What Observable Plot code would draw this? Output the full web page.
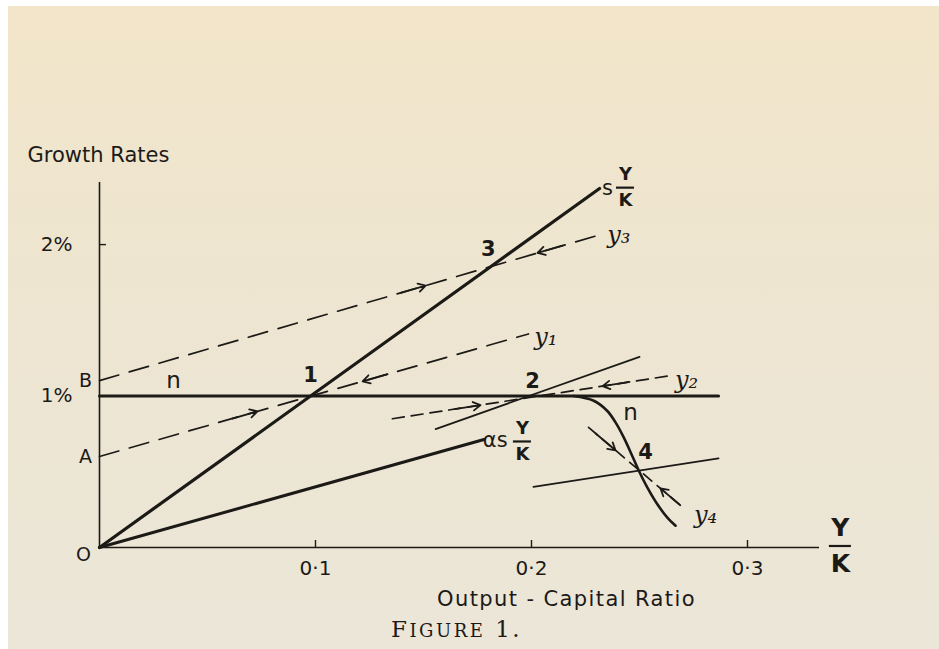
<!DOCTYPE html>
<html><head><meta charset="utf-8">
<script src="https://cdn.jsdelivr.net/npm/d3@7"></script>
<script src="https://cdn.jsdelivr.net/npm/@observablehq/plot@0.6"></script>
<style>
html,body{margin:0;padding:0;}
body{width:939px;height:649px;overflow:hidden;position:relative;background:linear-gradient(#f2e5c9, #eee5d0 40%, #ebe6d8);font-family:"DejaVu Sans",sans-serif;color:#1c1a17}
#edge-top{position:absolute;left:0;top:0;width:939px;height:6px;background:#fff}
#edge-left{position:absolute;left:0;top:0;width:8px;height:649px;background:#fff}
#caption{position:absolute;left:391px;top:618px;line-height:23px;font-family:"DejaVu Serif",serif;font-size:23px;letter-spacing:2.5px;color:#1c1a17;white-space:nowrap}
#caption .sc{font-size:18px}
svg{display:block}
</style></head><body>
<div id="chart"></div>
<div id="caption">F<span class="sc">IGURE</span> 1.</div>
<div id="edge-top"></div><div id="edge-left"></div>
<script>
// ---- axis ticks ----
const xTicks = [0.1, 0.2, 0.3];
const xTickLabels = ["0·1", "0·2", "0·3"];
const yTicks = [1, 2];
const yTickLabels = ["1%", "2%"];

// ---- solid curves (x = output-capital ratio, y = growth rate %) ----
const savingsRate = [[0, 0], [0.2315, 2.37]];          // s·Y/K
const alphaSavingsRate = [[0, 0], [0.178, 0.713]];     // αs·Y/K
const naturalRate = [[0, 1], [0.2866, 1]];             // n
const naturalRateFalling = [[0.2195, 1.0], [0.2288, 0.969], [0.2350, 0.903], [0.2389, 0.826],
  [0.2427, 0.727], [0.2466, 0.606], [0.2497, 0.507], [0.2536, 0.397], [0.2582, 0.287],
  [0.2628, 0.199], [0.2667, 0.144]];
const line2 = [[0.1556, 0.782], [0.25, 1.259]];
const line4 = [[0.2009, 0.400], [0.2866, 0.589]];

// ---- dashed output-growth paths ----
const pathY1 = [[0, 0.601], [0.1986, 1.41]];
const pathY2 = [[0.1356, 0.850], [0.263, 1.132]];
const pathY3 = [[0, 1.102], [0.2327, 2.069]];
const pathY4 = [[0.2264, 0.793], [0.2704, 0.261]];

// arrow tips on dashed paths (x of tip, direction along x)
const arrowTipX = [0.0731, 0.1218, 0.151, 0.2028, 0.1764, 0.2329, 0.2389, 0.2597];
const arrowDir  = [1, -1, 1, -1, 1, -1, 1, -1];
const arrowPath = ["y1", "y1", "y3", "y3", "y2", "y2", "y4", "y4"];

// ---- labels ----
const pointLabels = ["1", "2", "3", "4"];
const pointLabelX = [0.0977, 0.2005, 0.180, 0.2528];
const pointLabelY = [1.14, 1.10, 1.97, 0.63];

const nLabels = ["n", "n"];
const nLabelX = [0.0343, 0.2458];
const nLabelY = [1.10, 0.89];

const yLabels = ["y₁", "y₂", "y₃", "y₄"];
const yLabelX = [0.2066, 0.2718, 0.2404, 0.2806];
const yLabelY = [1.39, 1.105, 2.06, 0.215];

const axisLetters = ["B", "A", "O"];
const axisLetterX = [-0.0065, -0.0065, -0.0074];
const axisLetterY = [1.10, 0.60, -0.046];

// ---- layout ----
const W = 939, H = 612, mL = 99, mR = 120, mT = 182, mB = 65;
const xDomain = [0, 1 / 3], yDomain = [0, 2.41];
const kx = (W - mL - mR) / (xDomain[1] - xDomain[0]);
const ky = (H - mT - mB) / (yDomain[1] - yDomain[0]);

const paths = {y1: pathY1, y2: pathY2, y3: pathY3, y4: pathY4};
const arrows = arrowTipX.map((t, i) => {
  const p = paths[arrowPath[i]];
  const m = (p[1][1] - p[0][1]) / (p[1][0] - p[0][0]);
  const len = 26 / Math.hypot(kx, m * ky);
  const t0 = t - arrowDir[i] * len;
  return {x1: t0, y1: p[0][1] + m * (t0 - p[0][0]), x2: t, y2: p[0][1] + m * (t - p[0][0])};
});

const tbl = (txt, xs, ys) => txt.map((t, i) => ({text: t, x: xs[i], y: ys[i]}));
const fx = d => d[0], fy = d => d[1];

// fraction Y/K labels: anchored at the fraction bar
const fracX = [0.2435, 0.1958, 0.3430];
const fracY = [2.376, 0.700, 0.010];
const fracSize = [18, 18, 25];
const fracGap = [13, 13, 18];
const fracBarHalf = [9, 9, 11];
const fractions = fracX.map((x, i) => ({x, y: fracY[i], size: fracSize[i], gap: fracGap[i], half: fracBarHalf[i] / kx}));

const fracMarks = fractions.flatMap(f => [
  Plot.text([f], {x: "x", y: "y", text: () => "Y", fontSize: f.size, fontWeight: "bold", dy: -f.gap}),
  Plot.text([f], {x: "x", y: "y", text: () => "K", fontSize: f.size, fontWeight: "bold", dy: f.gap}),
  Plot.ruleY([f], {y: "y", x1: d => d.x - d.half, x2: d => d.x + d.half, strokeWidth: 2.2})
]);

const chart = Plot.plot({
  width: W, height: H,
  marginLeft: mL, marginRight: mR, marginTop: mT, marginBottom: mB,
  x: {domain: xDomain},
  y: {domain: yDomain},
  style: {background: "transparent", fontFamily: "'DejaVu Sans', sans-serif", color: "#1c1a17", overflow: "visible"},
  marks: [
    Plot.ruleX([0], {strokeWidth: 1.6}),
    Plot.ruleY([0], {strokeWidth: 1.6}),
    Plot.axisX(xTicks, {tickSize: -7, tickPadding: 20, strokeWidth: 1.4,
      tickFormat: d => xTickLabels[xTicks.indexOf(d)], fontSize: 20, label: null}),
    Plot.axisY(yTicks, {tickSize: -7, tickPadding: 34, strokeWidth: 1.4,
      tickFormat: d => yTickLabels[yTicks.indexOf(d)], fontSize: 20, label: null}),

    Plot.line(pathY1, {x: fx, y: fy, strokeWidth: 1.7, strokeDasharray: "20,11"}),
    Plot.line(pathY3, {x: fx, y: fy, strokeWidth: 1.7, strokeDasharray: "20,11"}),
    Plot.line(pathY2, {x: fx, y: fy, strokeWidth: 1.7, strokeDasharray: "12,7"}),
    Plot.line(pathY4, {x: fx, y: fy, strokeWidth: 1.7, strokeDasharray: "11,7"}),
    Plot.arrow(arrows, {x1: "x1", y1: "y1", x2: "x2", y2: "y2", strokeWidth: 1.8, headLength: 7, headAngle: 60}),

    Plot.line(line2, {x: fx, y: fy, strokeWidth: 1.8}),
    Plot.line(line4, {x: fx, y: fy, strokeWidth: 1.8}),
    Plot.line(naturalRate, {x: fx, y: fy, strokeWidth: 3}),
    Plot.line(naturalRateFalling, {x: fx, y: fy, strokeWidth: 2.6, curve: "catmull-rom"}),
    Plot.line(savingsRate, {x: fx, y: fy, strokeWidth: 3.2}),
    Plot.line(alphaSavingsRate, {x: fx, y: fy, strokeWidth: 3}),

    Plot.text(tbl(pointLabels, pointLabelX, pointLabelY), {x: "x", y: "y", text: "text", fontSize: 21, fontWeight: "bold"}),
    Plot.text(tbl(nLabels, nLabelX, nLabelY), {x: "x", y: "y", text: "text", fontSize: 23}),
    Plot.text(tbl(yLabels, yLabelX, yLabelY), {x: "x", y: "y", text: "text", fontSize: 24, fontStyle: "italic", fontFamily: "'DejaVu Serif', serif"}),
    Plot.text(tbl(axisLetters, axisLetterX, axisLetterY), {x: "x", y: "y", text: "text", fontSize: 19}),
    Plot.text(["Growth Rates"], {x: -0.0333, y: 2.587, text: d => d, fontSize: 21, textAnchor: "start"}),
    Plot.text(["Output - Capital Ratio"], {x: 0.2162, y: -0.343, text: d => d, fontSize: 21}),
    Plot.text(["s"], {x: 0.2352, y: 2.37, text: d => d, fontSize: 21}),
    Plot.text(["αs"], {x: 0.1832, y: 0.705, text: d => d, fontSize: 21}),
    ...fracMarks
  ]
});
document.getElementById("chart").appendChild(chart);

d3.select(chart).selectAll("text")
  .filter(function() { return this.textContent === "Output - Capital Ratio"; })
  .attr("letter-spacing", 1.4);
</script>
</body></html>
